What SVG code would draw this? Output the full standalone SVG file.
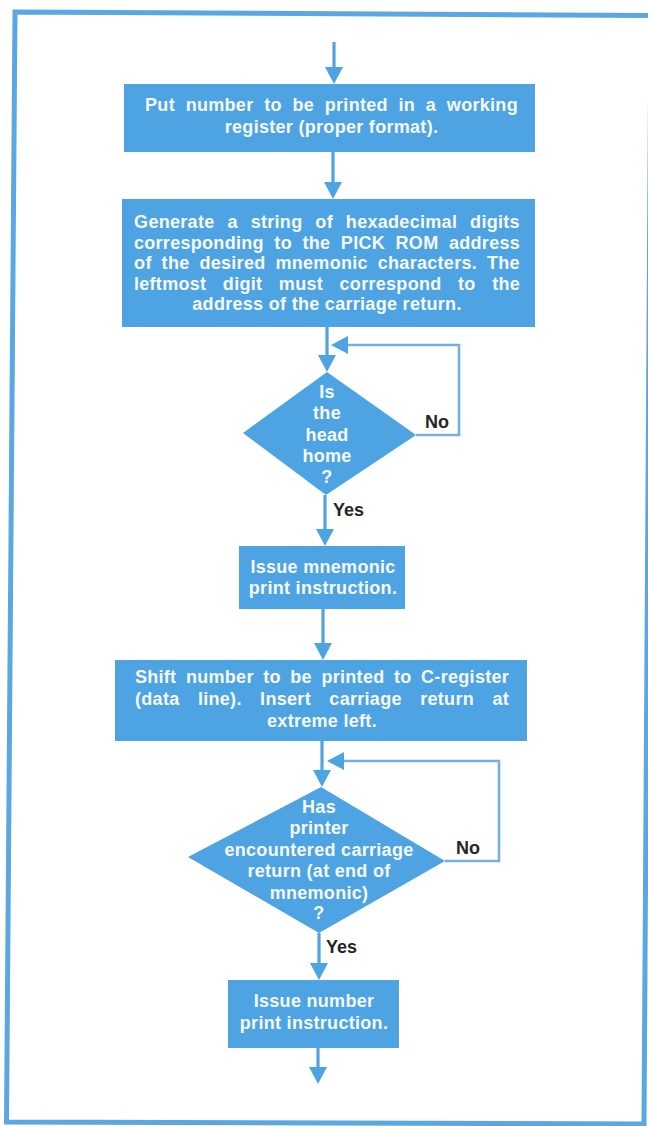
<svg xmlns="http://www.w3.org/2000/svg" width="648" height="1126" viewBox="0 0 648 1126">
<style>
.frame{fill:none;stroke:#5ba7e1;stroke-width:5;stroke-linejoin:miter}
.box{fill:#4ea4e3}
.t{font-family:"Liberation Sans",Arial,sans-serif;font-weight:bold;font-size:18px;fill:#f6f9fc;letter-spacing:0.3px;text-anchor:middle}
.lbl{font-family:"Liberation Sans",Arial,sans-serif;font-weight:bold;font-size:18px;fill:#262626}
.flow{fill:none;stroke:#52a3df;stroke-width:3.2}
.loop{fill:none;stroke:#74b1df;stroke-width:2.6}
</style>
<defs>
<marker id="ah" viewBox="0 -9 17 18" refX="0" refY="0" markerWidth="17" markerHeight="18" markerUnits="userSpaceOnUse" orient="auto"><path d="M0,-9 L17,0 L0,9 Z" fill="#4ea4e3"/></marker>
</defs>
<rect width="648" height="1126" fill="#ffffff"/>
<polygon class="frame" points="15,12 651,15.5 644,1124 6.5,1122"/>

<g id="connectors">
<path class="flow" d="M334,42 V67" marker-end="url(#ah)"/>
<path class="flow" d="M333,152 V182" marker-end="url(#ah)"/>
<path class="flow" d="M327,327 V355" marker-end="url(#ah)"/>
<path class="loop" d="M416,435 H459 V345 H348" marker-end="url(#ah)"/>
<path class="flow" d="M325,495 V529" marker-end="url(#ah)"/>
<path class="flow" d="M323,609 V643" marker-end="url(#ah)"/>
<path class="flow" d="M322,741 V770" marker-end="url(#ah)"/>
<path class="loop" d="M445,861 H499 V761 H344" marker-end="url(#ah)"/>
<path class="flow" d="M319,933 V963" marker-end="url(#ah)"/>
<path class="flow" d="M318,1048 V1067" marker-end="url(#ah)"/>
</g>

<g id="box1">
<rect class="box" x="124" y="84" width="411" height="68"/>
<text class="t" x="331.5" y="111" word-spacing="5.4">Put number to be printed in a working</text>
<text class="t" x="331.5" y="133">register (proper format).</text>
</g>

<g id="box2">
<rect class="box" x="122" y="199" width="413" height="128"/>
<text class="t" x="327" y="228" word-spacing="7.6">Generate a string of hexadecimal digits</text>
<text class="t" x="327" y="248.5" word-spacing="5.2">corresponding to the PICK ROM address</text>
<text class="t" x="327" y="269" word-spacing="4.6">of the desired mnemonic characters. The</text>
<text class="t" x="327" y="289.5" word-spacing="11.2">leftmost digit must correspond to the</text>
<text class="t" x="327" y="310">address of the carriage return.</text>
</g>

<g id="decision1">
<polygon class="box" points="327,372 416,435 326,495 243,433"/>
<text class="t" x="327" y="398">Is</text>
<text class="t" x="327" y="419">the</text>
<text class="t" x="327" y="441">head</text>
<text class="t" x="327" y="462">home</text>
<text class="t" x="327" y="483">?</text>
</g>

<g id="box3">
<rect class="box" x="239" y="546" width="166" height="63"/>
<text class="t" x="323" y="573">Issue mnemonic</text>
<text class="t" x="323" y="594">print instruction.</text>
</g>

<g id="box4">
<rect class="box" x="115" y="660" width="412" height="81"/>
<text class="t" x="322" y="683" word-spacing="4.2">Shift number to be printed to C-register</text>
<text class="t" x="322" y="705" word-spacing="13.1">(data line). Insert carriage return at</text>
<text class="t" x="322" y="727">extreme left.</text>
</g>

<g id="decision2">
<polygon class="box" points="321,787 445,861 319,933 188,857"/>
<text class="t" x="319" y="813">Has</text>
<text class="t" x="319" y="834">printer</text>
<text class="t" x="319" y="856">encountered carriage</text>
<text class="t" x="319" y="877">return (at end of</text>
<text class="t" x="319" y="899">mnemonic)</text>
<text class="t" x="319" y="919">?</text>
</g>

<g id="box5">
<rect class="box" x="228" y="980" width="171" height="68"/>
<text class="t" x="314" y="1007">Issue number</text>
<text class="t" x="314" y="1029">print instruction.</text>
</g>

<g id="labels">
<text class="lbl" x="425" y="428">No</text>
<text class="lbl" x="333" y="516">Yes</text>
<text class="lbl" x="456" y="854">No</text>
<text class="lbl" x="326" y="953">Yes</text>
</g>
</svg>
